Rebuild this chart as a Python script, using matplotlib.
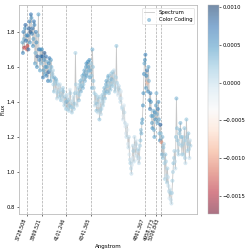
import numpy as np
import matplotlib
matplotlib.use('Agg')
import matplotlib.pyplot as plt

# 谱线位置与标签
line_waves = [3728.508, 3869.521, 4101.246, 4341.365, 4861.367, 4958.773, 5006.843]
line_labels = ['3728.508', '3869.521', '4101.246', '4341.365', '4861.367', '4958.773', '5006.843']

# 光谱，偶数点与奇数点分两组记录
wave_start = 3680.0
wave_step = 4.8
flux_even = [
    1.74, 1.80, 1.71, 1.84, 1.78, 1.72, 1.70, 1.86, 1.80, 1.88,
    1.82, 1.76, 1.84, 1.68, 1.74, 1.66, 1.90, 1.64, 1.70, 1.62,
    1.66, 1.58, 1.68, 1.60, 1.55, 1.63, 1.57, 1.65, 1.52, 1.60,
    1.56, 1.50, 1.54, 1.47, 1.52, 1.45, 1.49, 1.43, 1.47, 1.44,
    1.42, 1.46, 1.38, 1.44, 1.40, 1.36, 1.42, 1.38, 1.45, 1.40,
    1.37, 1.43, 1.39, 1.68, 1.46, 1.40, 1.48, 1.44, 1.52, 1.49,
    1.55, 1.50, 1.58, 1.54, 1.62, 1.57, 1.60, 1.64, 1.58, 1.55,
    1.70, 1.52, 1.45, 1.40, 1.35, 1.42, 1.38, 1.30, 1.40, 1.36,
    1.44, 1.40, 1.48, 1.45, 1.52, 1.49, 1.55, 1.50, 1.47, 1.53,
    1.57, 1.52, 1.55, 1.48, 1.72, 1.50, 1.45, 1.47, 1.40, 1.42,
    1.36, 1.32, 1.34, 1.26, 1.20, 1.24, 1.14, 1.10, 1.05, 0.99,
    1.08, 1.12, 1.20, 1.10, 1.16, 1.07, 1.13, 1.08, 1.18, 1.22,
    1.30, 1.45, 1.62, 1.67, 1.55, 1.51, 1.60, 1.41, 1.45, 1.32,
    1.25, 1.35, 1.20, 1.30, 1.45, 1.28, 1.40, 1.22, 1.27, 1.17,
    1.20, 1.14, 1.05, 1.10, 0.98, 1.02, 0.92, 0.85, 0.88, 0.82,
    0.95, 1.05, 1.12, 1.02, 1.42, 1.18, 1.10, 1.22, 1.28, 1.15,
    1.20, 1.10, 1.25, 1.05, 1.30, 1.12, 1.22, 1.08, 1.15,
]
flux_odd = [
    1.68, 1.76, 1.82, 1.75, 1.70, 1.78, 1.82, 1.74, 1.90, 1.79,
    1.72, 1.86, 1.62, 1.80, 1.60, 1.78, 1.70, 1.58, 1.66, 1.70,
    1.54, 1.64, 1.56, 1.66, 1.60, 1.52, 1.62, 1.58, 1.64, 1.54,
    1.58, 1.46, 1.51, 1.53, 1.42, 1.50, 1.46, 1.50, 1.41, 1.47,
    1.48, 1.40, 1.43, 1.36, 1.44, 1.41, 1.35, 1.47, 1.37, 1.34,
    1.41, 1.36, 1.45, 1.50, 1.38, 1.45, 1.41, 1.50, 1.46, 1.53,
    1.48, 1.56, 1.52, 1.60, 1.55, 1.63, 1.58, 1.54, 1.62, 1.48,
    1.60, 1.48, 1.38, 1.44, 1.39, 1.34, 1.43, 1.35, 1.33, 1.42,
    1.38, 1.46, 1.42, 1.50, 1.46, 1.54, 1.45, 1.52, 1.56, 1.49,
    1.50, 1.58, 1.46, 1.54, 1.51, 1.44, 1.49, 1.42, 1.46, 1.37,
    1.30, 1.38, 1.28, 1.22, 1.27, 1.16, 1.20, 1.07, 1.02, 1.04,
    1.15, 1.06, 1.14, 1.18, 1.09, 1.12, 1.05, 1.15, 1.24, 1.28,
    1.38, 1.56, 1.64, 1.48, 1.58, 1.46, 1.52, 1.36, 1.40, 1.28,
    1.32, 1.24, 1.34, 1.38, 1.33, 1.36, 1.30, 1.18, 1.22, 1.10,
    1.08, 1.16, 0.96, 1.06, 0.94, 0.97, 0.89, 0.90, 0.84, 0.88,
    1.00, 1.08, 1.06, 1.20, 1.25, 1.12, 1.16, 1.24, 1.20, 1.10,
    1.16, 1.18, 1.08, 1.18, 1.20, 1.16, 1.13, 1.18,
]
# 颜色编码值
color_even = [
    0.0004, 0.0006, -0.0014, 0.0008, 0.0005, -0.0013, 0.0007, 0.0006, 0.0009, 0.0005,
    0.0007, 0.0004, 0.0006, 0.0003, 0.0005, 0.0008, 0.0004, 0.0006, 0.0005, 0.0003,
    0.0008, 0.0004, 0.0009, 0.0005, 0.0006, 0.0003, 0.0008, 0.0007, 0.0004, 0.0003,
    0.0002, 0.0001, 0.0003, 0.0000, 0.0002, 0.0001, -0.0001, 0.0002, 0.0000, 0.0001,
    0.0000, 0.0002, 0.0001, -0.0001, 0.0003, 0.0001, 0.0000, 0.0002, 0.0001, 0.0000,
    0.0001, 0.0000, 0.0002, 0.0001, 0.0000, -0.0001, 0.0002, 0.0001, 0.0003, 0.0002,
    0.0003, 0.0002, 0.0004, 0.0003, 0.0005, 0.0003, 0.0004, 0.0005, 0.0003, 0.0002,
    0.0003, 0.0002, 0.0001, 0.0000, 0.0002, 0.0001, -0.0001, 0.0002, 0.0000, 0.0001,
    0.0002, 0.0001, 0.0003, 0.0002, 0.0004, 0.0002, 0.0003, 0.0001, 0.0002, 0.0003,
    0.0002, 0.0001, 0.0000, 0.0001, 0.0002, 0.0000, -0.0001, 0.0001, 0.0000, -0.0001,
    0.0000, -0.0002, 0.0000, -0.0001, 0.0000, -0.0002, 0.0000, -0.0001, 0.0001, 0.0000,
    -0.0001, 0.0001, 0.0000, -0.0002, 0.0000, -0.0001, 0.0001, 0.0000, 0.0002, 0.0003,
    0.0004, 0.0005, 0.0004, 0.0006, 0.0005, -0.0008, 0.0004, 0.0005, 0.0006, 0.0004,
    0.0005, 0.0003, 0.0004, 0.0005, 0.0003, 0.0004, 0.0005, 0.0003, 0.0008, -0.0010,
    0.0003, 0.0002, 0.0001, 0.0002, 0.0000, 0.0001, 0.0000, -0.0001, 0.0001, 0.0000,
    0.0001, 0.0002, 0.0001, 0.0000, 0.0003, 0.0002, 0.0001, 0.0002, 0.0003, 0.0001,
    0.0002, 0.0001, 0.0002, 0.0000, 0.0002, 0.0001, 0.0002, 0.0000, 0.0001,
]
color_odd = [
    0.0006, 0.0003, 0.0005, 0.0007, -0.0012, 0.0006, 0.0008, 0.0005, 0.0007, 0.0006,
    0.0005, 0.0007, 0.0004, 0.0006, 0.0005, 0.0003, 0.0007, 0.0004, 0.0006, 0.0005,
    0.0006, 0.0005, 0.0004, 0.0007, 0.0004, 0.0006, 0.0005, 0.0003, 0.0004, 0.0002,
    0.0001, 0.0002, 0.0001, 0.0003, 0.0000, 0.0002, 0.0001, 0.0000, 0.0002, 0.0000,
    0.0001, 0.0000, 0.0002, 0.0001, 0.0000, 0.0002, 0.0001, -0.0001, 0.0002, 0.0001,
    0.0000, 0.0001, 0.0002, 0.0001, 0.0000, 0.0001, 0.0002, 0.0002, 0.0003, 0.0002,
    0.0003, 0.0004, 0.0003, 0.0004, 0.0004, 0.0005, 0.0003, 0.0004, 0.0002, 0.0003,
    0.0002, 0.0001, 0.0000, 0.0001, 0.0002, 0.0000, 0.0001, 0.0001, 0.0000, 0.0002,
    0.0001, 0.0002, 0.0002, 0.0003, 0.0003, 0.0002, 0.0002, 0.0002, 0.0001, 0.0002,
    0.0001, 0.0000, 0.0001, 0.0001, 0.0001, -0.0001, 0.0000, 0.0000, -0.0001, 0.0000,
    -0.0001, -0.0001, 0.0000, -0.0001, -0.0001, -0.0001, 0.0000, 0.0000, 0.0000, -0.0001,
    0.0000, 0.0000, -0.0001, -0.0001, 0.0000, 0.0000, 0.0000, 0.0001, 0.0002, 0.0004,
    0.0005, 0.0005, 0.0005, 0.0004, 0.0006, 0.0005, 0.0003, 0.0006, 0.0005, 0.0004,
    0.0004, 0.0003, 0.0005, 0.0004, 0.0003, 0.0006, 0.0004, 0.0005, 0.0002, 0.0003,
    0.0002, 0.0001, 0.0001, 0.0001, 0.0001, 0.0000, 0.0000, 0.0000, 0.0000, 0.0001,
    0.0001, 0.0001, 0.0000, 0.0002, 0.0002, 0.0001, 0.0001, 0.0003, 0.0002, 0.0001,
    0.0001, 0.0001, 0.0001, 0.0001, 0.0002, 0.0001, 0.0001, 0.0000,
]

n = len(flux_even) + len(flux_odd)
flux = np.empty(n)
flux[0::2] = flux_even
flux[1::2] = flux_odd
color_val = np.empty(n)
color_val[0::2] = color_even
color_val[1::2] = color_odd
wave = wave_start + wave_step * np.arange(n)

plt.rcParams['font.family'] = ['DejaVu Sans']
fig = plt.figure(figsize=(2.49, 2.49), dpi=100)
ax = fig.add_axes([0.0763, 0.1406, 0.7149, 0.8394])
cax = fig.add_axes([0.835, 0.1406, 0.044, 0.8394])

ax.plot(wave, flux, color='#999999', lw=0.6, alpha=0.55, label='Spectrum', zorder=2)
sc = ax.scatter(wave, flux, c=color_val, cmap='RdBu', vmin=-0.00174, vmax=0.00103,
                s=6, alpha=0.55, linewidths=0.3, label='Color Coding', zorder=3)
for w in line_waves:
    ax.axvline(w, color='#aaaaaa', ls='--', lw=0.5, zorder=1)

ax.set_xlim(3647, 5356)
ax.set_ylim(0.76, 1.954)
ax.set_xticks(line_waves)
ax.set_xticklabels(line_labels, rotation=70, ha='right', fontsize=3.5)
ax.set_yticks([0.8, 1.0, 1.2, 1.4, 1.6, 1.8])
ax.tick_params(axis='y', labelsize=3.8, length=1.5, width=0.4, pad=1.5)
ax.tick_params(axis='x', length=1.5, width=0.4, pad=1)
ax.set_xlabel('Angstrom', fontsize=4, labelpad=2)
ax.set_ylabel('Flux', fontsize=4, labelpad=1)
for sp in ax.spines.values():
    sp.set_color('#bbbbbb')
    sp.set_linewidth(0.6)

leg = ax.legend(loc='upper right', fontsize=3.8, frameon=True, borderpad=0.4,
                handlelength=2.0, labelspacing=0.5)
leg.get_frame().set_linewidth(0.4)
leg.get_frame().set_edgecolor('#cccccc')

cb = fig.colorbar(sc, cax=cax)
cb.set_ticks([0.0010, 0.0005, 0.0, -0.0005, -0.0010, -0.0015])
cb.ax.set_yticklabels(['0.0010', '0.0005', '0.0000', '\u22120.0005', '\u22120.0010', '\u22120.0015'])
cb.ax.tick_params(labelsize=3.8, length=1.5, width=0.4, pad=1)
cb.outline.set_linewidth(0.3)
cb.outline.set_edgecolor('#bbbbbb')

fig.savefig('out.png', dpi=100)
